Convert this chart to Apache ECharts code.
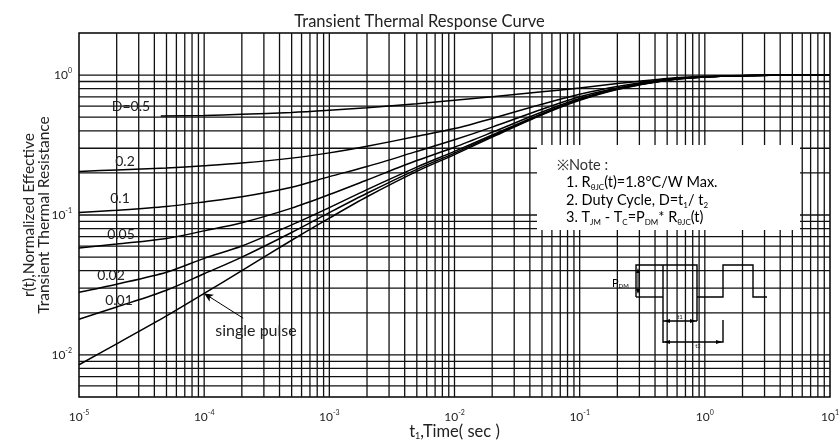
<!DOCTYPE html>
<html>
<head>
<meta charset="utf-8">
<script src="https://cdn.jsdelivr.net/npm/echarts@6/dist/echarts.min.js"></script>
<style>
html, body { margin: 0; padding: 0; background: #fff; }
#main { width: 839px; height: 445px; }
</style>
</head>
<body>
<div id="main"></div>
<script>
// time points (sec) shared by most curves
var timeSec = [1e-5, 2e-5, 5e-5, 1e-4, 2e-4, 5e-4, 1e-3, 2e-3, 5e-3, 1e-2, 2e-2, 5e-2, 0.1, 0.2, 0.5, 1, 2, 5, 10];
// r(t)
var singlePulse = [0.0085, 0.012, 0.019, 0.0275, 0.040, 0.066, 0.095, 0.135, 0.205, 0.27, 0.36, 0.52, 0.66, 0.79, 0.92, 0.97, 0.99, 1.0, 1.0];
var duty001 = [0.018, 0.022, 0.029, 0.038, 0.050, 0.075, 0.104, 0.143, 0.212, 0.277, 0.366, 0.525, 0.665, 0.795, 0.92, 0.97, 0.99, 1.0, 1.0];
var duty002 = [0.028, 0.032, 0.039, 0.049, 0.060, 0.085, 0.113, 0.152, 0.22, 0.285, 0.373, 0.53, 0.67, 0.80, 0.92, 0.97, 0.99, 1.0, 1.0];
var duty005 = [0.058, 0.062, 0.068, 0.077, 0.088, 0.112, 0.14, 0.178, 0.245, 0.305, 0.39, 0.545, 0.68, 0.80, 0.925, 0.97, 0.99, 1.0, 1.0];
var duty01 = [0.104, 0.108, 0.115, 0.124, 0.135, 0.158, 0.188, 0.222, 0.285, 0.345, 0.425, 0.57, 0.70, 0.81, 0.93, 0.975, 0.99, 1.0, 1.0];
var duty02 = [0.205, 0.21, 0.217, 0.225, 0.235, 0.255, 0.278, 0.31, 0.365, 0.415, 0.49, 0.62, 0.73, 0.83, 0.935, 0.975, 0.99, 1.0, 1.0];
// D=0.5 starts right of its label
var timeD05 = [4.5e-5, 1e-4, 2e-4, 5e-4, 1e-3, 2e-3, 5e-3, 1e-2, 2e-2, 5e-2, 0.1, 0.2, 0.5, 1, 2, 5, 10];
var duty05 = [0.51, 0.515, 0.525, 0.54, 0.56, 0.585, 0.625, 0.66, 0.70, 0.76, 0.81, 0.87, 0.945, 0.98, 0.995, 1.0, 1.0];

var xDecades = [1e-5, 1e-4, 1e-3, 1e-2, 1e-1, 1];
var yDecades = [0.001, 0.01, 0.1];
var mantissa = [1, 2, 3, 4, 5, 6, 7, 8, 9];
var xMin = 1e-5, xMax = 10, yMin = 0.005, yMax = 2;

var chart = echarts.init(document.getElementById('main'));

function pairs(xs, ys) {
  return xs.map(function (x, i) { return [x, ys[i]]; });
}

// log paper grid lines, drawn as plain two-point line series
var gridSeries = [];
function gridLine(data) {
  gridSeries.push({
    type: 'line',
    data: data,
    silent: true,
    showSymbol: false,
    lineStyle: { color: '#111', width: 1.3 },
    z: 3
  });
}
xDecades.forEach(function (d) {
  mantissa.forEach(function (m) {
    var v = d * m;
    if (v > xMin * 1.001) gridLine([[v, yMin], [v, yMax]]);
  });
});
yDecades.forEach(function (d) {
  mantissa.forEach(function (m) {
    var v = d * m;
    if (v > yMin * 1.001) gridLine([[xMin, v], [xMax, v]]);
  });
});
gridLine([[xMin, 1], [xMax, 1]]);

function powLabel(v) {
  var e = Math.log10(v);
  if (Math.abs(e - Math.round(e)) > 1e-6) return '';
  return '{b|10}{s|' + Math.round(e) + '}';
}

var labelRich = {
  b: { fontSize: 12, lineHeight: 16, color: '#222', fontFamily: 'Lato' },
  s: { fontSize: 7, verticalAlign: 'top', color: '#222', fontFamily: 'Lato' }
};

var curveStyle = { color: '#000', width: 1.5 };

function curve(name, data) {
  return {
    name: name,
    type: 'line',
    data: data,
    smooth: 0.3,
    showSymbol: false,
    silent: true,
    lineStyle: curveStyle,
    z: 5
  };
}

var singleSeries = curve('single pulse', pairs(timeSec, singlePulse));
singleSeries.markLine = {
  silent: true,
  symbol: ['none', 'arrow'],
  symbolSize: [6, 9],
  label: { show: false },
  lineStyle: { color: '#000', width: 1, type: 'solid' },
  data: [[{ coord: [2.05e-4, 0.0183] }, { coord: [1e-4, 0.0275] }]]
};

function label(x, y, s, size) {
  return {
    type: 'text', x: x, y: y, z: 60,
    style: { text: s, align: 'center', verticalAlign: 'middle', fontFamily: 'Lato', fontSize: size || 14, fill: '#222' }
  };
}

var noteRich = {
  n: { fontSize: 14.5, lineHeight: 18, color: '#333', fontFamily: 'Lato' },
  s: { fontSize: 8, verticalAlign: 'bottom', color: '#333', fontFamily: 'Lato' }
};

var ink = { stroke: '#000', lineWidth: 1.4, fill: null };

chart.setOption({
  animation: false,
  backgroundColor: '#fff',
  title: {
    text: 'Transient Thermal Response Curve',
    left: 'center',
    top: 8,
    textStyle: { fontFamily: 'Lato', fontSize: 16.5, fontWeight: 'normal', color: '#222' }
  },
  grid: {
    left: 79, right: 9, top: 33, bottom: 48,
    outerBoundsMode: 'none',
    show: true, borderColor: '#000', borderWidth: 1.5, backgroundColor: '#fff'
  },
  xAxis: {
    type: 'log',
    logBase: 10,
    min: xMin,
    max: xMax,
    name: '{a|t}{u|1}{a|,Time( sec )}',
    nameLocation: 'middle',
    nameGap: 26,
    nameMoveOverlap: false,
    nameTextStyle: {
      rich: {
        a: { fontSize: 16.5, lineHeight: 18, color: '#222', fontFamily: 'Lato' },
        u: { fontSize: 9, verticalAlign: 'bottom', color: '#222', fontFamily: 'Lato' }
      }
    },
    axisLine: { show: false },
    axisTick: { show: false },
    splitLine: { show: false },
    axisLabel: { formatter: powLabel, rich: labelRich, margin: 12, showMinLabel: true, showMaxLabel: true }
  },
  yAxis: {
    type: 'log',
    logBase: 10,
    min: yMin,
    max: yMax,
    name: 'r(t),Normalized Effective\nTransient Thermal Resistance',
    nameLocation: 'middle',
    nameGap: 28,
    nameMoveOverlap: false,
    nameRotate: 90,
    nameTextStyle: { fontFamily: 'Lato', fontSize: 15.5, lineHeight: 15, color: '#222' },
    axisLine: { show: false },
    axisTick: { show: false },
    splitLine: { show: false },
    axisLabel: { formatter: powLabel, rich: labelRich, margin: 7 }
  },
  graphic: [
    // note box
    { type: 'rect', shape: { x: 537, y: 145, width: 263, height: 85 }, style: { fill: '#fff' }, z: 50 },
    { type: 'text', x: 557, y: 165, z: 60, style: { text: '※Note :', fontFamily: 'Lato', fontSize: 14.5, fill: '#333', verticalAlign: 'middle' } },
    { type: 'text', x: 566, y: 182, z: 60, style: { text: '{n|1. R}{s|θJC}{n|(t)=1.8°C/W Max.}', rich: noteRich, verticalAlign: 'middle' } },
    { type: 'text', x: 566, y: 200, z: 60, style: { text: '{n|2. Duty Cycle, D=t}{s|1}{n|/ t}{s|2}', rich: noteRich, verticalAlign: 'middle' } },
    { type: 'text', x: 566, y: 217, z: 60, style: { text: '{n|3. T}{s|JM}{n| - T}{s|C}{n|=P}{s|DM}{n|* R}{s|θJC}{n|(t)}', rich: noteRich, verticalAlign: 'middle' } },
    // curve labels
    label(131, 106, 'D=0.5'),
    label(125, 161, '0.2'),
    label(120, 198, '0.1'),
    label(121, 234, '0.05'),
    label(111, 275, '0.02'),
    label(119, 300, '0.01'),
    label(256, 331, 'single pulse', 16),
    // pulse sketch
    { type: 'polyline', z: 60, shape: { points: [[636, 297], [636, 265], [697, 265], [697, 321]] }, style: ink },
    { type: 'polyline', z: 60, shape: { points: [[636, 297], [663, 297]] }, style: ink },
    { type: 'polyline', z: 60, shape: { points: [[663, 265], [663, 343]] }, style: ink },
    { type: 'polyline', z: 60, shape: { points: [[697, 297], [723, 297], [723, 265], [753, 265], [753, 297], [767, 297]] }, style: ink },
    { type: 'polyline', z: 60, shape: { points: [[663, 321], [697, 321]] }, style: ink },
    { type: 'polyline', z: 60, shape: { points: [[663, 342], [723, 342], [723, 320]] }, style: ink },
    { type: 'polyline', z: 60, shape: { points: [[638, 270], [638, 292]] }, style: { stroke: '#000', lineWidth: 1, fill: null } },
    { type: 'polygon', z: 60, shape: { points: [[638, 268], [636, 273], [640, 273]] }, style: { fill: '#000' } },
    { type: 'polygon', z: 60, shape: { points: [[638, 294], [636, 289], [640, 289]] }, style: { fill: '#000' } },
    { type: 'polygon', z: 60, shape: { points: [[664, 321], [670, 319], [670, 323]] }, style: { fill: '#000' } },
    { type: 'polygon', z: 60, shape: { points: [[696, 321], [690, 319], [690, 323]] }, style: { fill: '#000' } },
    { type: 'polygon', z: 60, shape: { points: [[664, 342], [670, 340], [670, 344]] }, style: { fill: '#000' } },
    { type: 'polygon', z: 60, shape: { points: [[722, 342], [716, 340], [716, 344]] }, style: { fill: '#000' } },
    { type: 'text', x: 612, y: 283, z: 60, style: { text: '{n|P}{s|DM}', rich: { n: { fontSize: 11, lineHeight: 13, color: '#222', fontFamily: 'Lato' }, s: { fontSize: 6, verticalAlign: 'bottom', color: '#222', fontFamily: 'Lato' } }, verticalAlign: 'middle' } },
    { type: 'text', x: 680, y: 317, z: 60, style: { text: 't1', fontFamily: 'Lato', fontSize: 6, fill: '#222', align: 'center', verticalAlign: 'middle' } },
    { type: 'text', x: 698, y: 346, z: 60, style: { text: 't2', fontFamily: 'Lato', fontSize: 6, fill: '#222', align: 'center', verticalAlign: 'middle' } }
  ],
  series: gridSeries.concat([
    curve('D=0.5', pairs(timeD05, duty05)),
    curve('D=0.2', pairs(timeSec, duty02)),
    curve('D=0.1', pairs(timeSec, duty01)),
    curve('D=0.05', pairs(timeSec, duty005)),
    curve('D=0.02', pairs(timeSec, duty002)),
    curve('D=0.01', pairs(timeSec, duty001)),
    singleSeries
  ])
});
</script>
</body>
</html>
